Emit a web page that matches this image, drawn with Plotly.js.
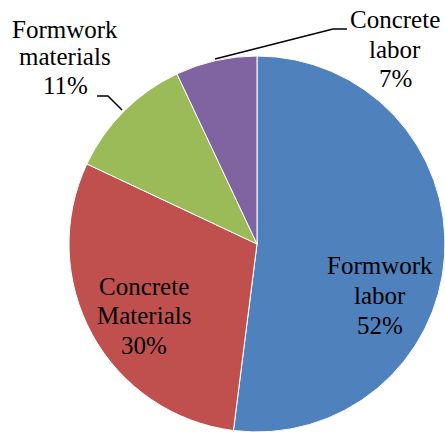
<!DOCTYPE html>
<html>
<head>
<meta charset="utf-8">
<script src="https://cdn.plot.ly/plotly-3.0.1.min.js"></script>
<style>html,body{margin:0;padding:0;background:#fff;}#chart{width:445px;height:432px;}</style>
</head>
<body>
<div id="chart"></div>
<script>
const categories = ["Formwork labor", "Concrete Materials", "Formwork materials", "Concrete labor"];
const values = [52, 30, 11, 7];
const colors = ["#4F81BD", "#C0504D", "#9BBB59", "#8064A2"];

const W = 445, H = 432;
const px = x => x / W;
const py = y => 1 - y / H;

const total = values.reduce((a, b) => a + b, 0);
const labelLines = categories.map((c, i) => c.split(" ").concat([Math.round(values[i] / total * 100) + "%"]));

// label layout (pixels): centre x, first baseline, line step
const labelPos = [[380, 273, 30], [144, 294, 29.5], [65, 37, 28], [395, 28, 29.5]];
const FONT = {family: "Liberation Serif", size: 25, color: "#000"};

const annotations = [];
labelLines.forEach((lines, i) => {
  const [cx, b0, step] = labelPos[i];
  lines.forEach((t, k) => {
    annotations.push({
      text: t, x: px(cx), y: py(b0 + k * step - 8), xref: "paper", yref: "paper",
      xanchor: "center", yanchor: "middle", showarrow: false, font: FONT
    });
  });
});

const leader = pts => ({
  type: "path", xref: "paper", yref: "paper",
  path: "M " + pts.map(p => px(p[0]) + "," + py(p[1])).join(" L "),
  line: {color: "#000", width: 1.5}
});

const data = [{
  type: "pie",
  labels: categories,
  values: values,
  sort: false,
  direction: "clockwise",
  rotation: 0,
  marker: {colors: colors, line: {color: "#fff", width: 1}},
  textinfo: "none",
  hoverinfo: "label+percent",
  showlegend: false,
  domain: {x: [px(69), px(445)], y: [py(432), py(56)]}
}];

const layout = {
  width: W, height: H,
  margin: {l: 0, r: 0, t: 0, b: 0},
  paper_bgcolor: "#fff",
  font: {family: "Liberation Serif"},
  showlegend: false,
  annotations: annotations,
  shapes: [
    leader([[97, 96], [108, 96], [122, 110]]),
    leader([[347, 29], [333, 29], [215, 59]])
  ]
};

Plotly.newPlot("chart", data, layout, {displayModeBar: false, staticPlot: true});
</script>
</body>
</html>
